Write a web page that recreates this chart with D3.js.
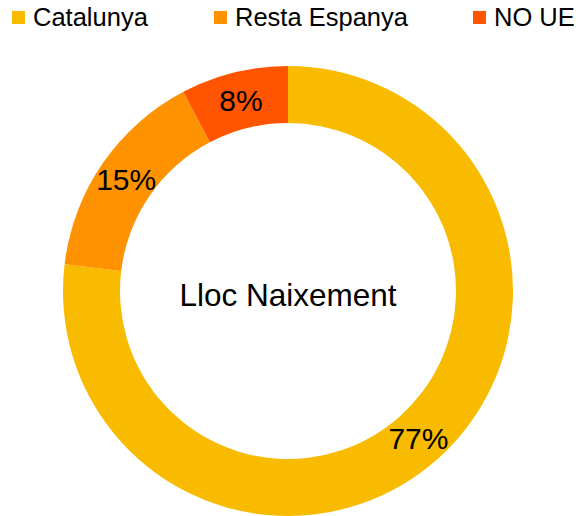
<!DOCTYPE html>
<html>
<head>
<meta charset="utf-8">
<script src="https://cdnjs.cloudflare.com/ajax/libs/d3/7.8.5/d3.min.js"></script>
<style>
  body { margin: 0; background: #fff; }
  svg { display: block; font-family: Arial, "Liberation Sans", Helvetica, sans-serif; }
</style>
</head>
<body>
<div id="chart"></div>
<script>
// chart data (shares in percent)
var categories = ["Catalunya", "Resta Espanya", "NO UE"];
var values = [76.9, 15.4, 7.7];
var colors = ["#F8BB00", "#FF9200", "#FF5500"];
var centerTitle = "Lloc Naixement";

var width = 578,
    height = 516,
    cx = 288,
    cy = 291,
    outerR = 225,
    innerR = 168;

var svg = d3.select("#chart")
            .append("svg")
            .attr("width", width)
            .attr("height", height);

var color = d3.scaleOrdinal()
              .domain(categories)
              .range(colors);

// legend along the top
var legendX = [12, 214, 473];
var legend = svg.selectAll(".legend")
                .data(categories)
                .enter()
                .append("g")
                .attr("class", "legend")
                .attr("transform", function(d, i) {
                  return "translate(" + legendX[i] + ",11)";
                });

legend.append("rect")
      .attr("width", 13)
      .attr("height", 13)
      .style("fill", function(d) { return color(d); });

legend.append("text")
      .attr("x", 21)
      .attr("y", 15)
      .style("font-size", "25.5px")
      .style("fill", "#000")
      .text(function(d) { return d; });

// donut
var pie = d3.pie()
            .sort(null)
            .value(function(d) { return d.value; });

var arc = d3.arc()
            .innerRadius(innerR)
            .outerRadius(outerR);

var labelArc = d3.arc()
                 .innerRadius((innerR + outerR) / 2)
                 .outerRadius((innerR + outerR) / 2);

var slices = categories.map(function(c, i) {
  return {name: c, value: values[i]};
});
var total = d3.sum(values);

var donut = svg.append("g")
               .attr("transform", "translate(" + cx + "," + cy + ")");

var arcs = donut.selectAll(".slice")
                .data(pie(slices))
                .enter()
                .append("g")
                .attr("class", "slice");

arcs.append("path")
    .attr("d", arc)
    .style("fill", function(d) { return color(d.data.name); });

arcs.append("text")
    .attr("transform", function(d) {
      return "translate(" + labelArc.centroid(d) + ")";
    })
    .attr("dy", "0.36em")
    .style("text-anchor", "middle")
    .style("font-size", "30px")
    .style("fill", "#000")
    .text(function(d) {
      return Math.round(d.data.value / total * 100) + "%";
    });

// centre title
donut.append("text")
     .attr("x", 0)
     .attr("y", 15)
     .style("text-anchor", "middle")
     .style("font-size", "31.5px")
     .style("fill", "#000")
     .text(centerTitle);
</script>
</body>
</html>
